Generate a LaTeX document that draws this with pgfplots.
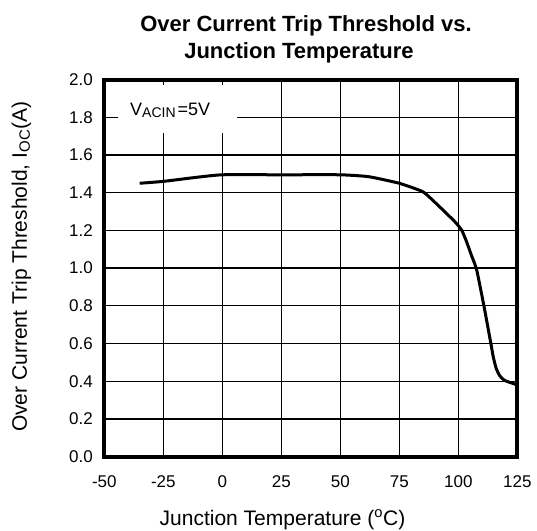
\documentclass[border=0pt]{standalone}
\usepackage{fontspec}
\setmainfont{Liberation Sans}
\usepackage{pgfplots}
\pgfplotsset{compat=1.18}
\begin{document}
\begin{tikzpicture}
\begin{axis}[
  scale only axis,
  width=413bp, height=377bp,
  xmin=-50, xmax=125, ymin=0, ymax=2,
  xtick={-50,-25,0,25,50,75,100,125},
  ytick={0,0.2,0.4,0.6,0.8,1.0,1.2,1.4,1.6,1.8,2.0},
  grid=major,
  grid style={black, line width=1.3bp},
  axis line style={black, line width=4bp},
  major tick length=0pt,
  /pgf/number format/assume math mode=true,
  ticklabel style={font=\fontsize{17bp}{20bp}\selectfont, text=black},
  yticklabel style={/pgf/number format/fixed, /pgf/number format/fixed zerofill, /pgf/number format/precision=1, xshift=-8bp},
  xticklabel style={yshift=-16bp},
  clip=false,
]
\addplot[black, line width=3bp, smooth, tension=0.3] coordinates {
(-35,1.45) (-25,1.46) (-12,1.48) (0,1.495) (25,1.495) (50,1.495) (62,1.485)
(75,1.45) (85,1.405) (90,1.35) (95,1.29) (99,1.24) (101.5,1.20) (103.5,1.14)
(105.5,1.07) (107.8,0.99) (111,0.79) (113.8,0.60) (114.8,0.53) (116,0.47)
(117.5,0.43) (119.5,0.405) (122,0.393) (125,0.38)
};
\fill[white] (axis cs:-44.2,1.717) rectangle (axis cs:6.1,1.971);
\node[anchor=base west, inner sep=0, font=\fontsize{18bp}{18bp}\selectfont] at (axis cs:-39.1,1.812) {V\raisebox{-2.3bp}{\fontsize{14bp}{14bp}\selectfont ACIN}\hspace{2bp}=5V};
\end{axis}
\node[anchor=base, inner sep=0, font=\fontsize{22bp}{22bp}\selectfont\bfseries] at (201.7bp,424.9bp) {Over Current Trip Threshold vs.};
\node[anchor=base, inner sep=0, font=\fontsize{22bp}{22bp}\selectfont\bfseries] at (194.7bp,397.6bp) {Junction Temperature};
\node[anchor=base, inner sep=0, font=\fontsize{21bp}{21bp}\selectfont] at (178.2bp,-68.4bp) {Junction Temperature (\textsuperscript{o}C)};
\node[anchor=base, inner sep=0, rotate=90, font=\fontsize{21bp}{21bp}\selectfont] at (-77.3bp,190.1bp) {Over Current Trip Threshold, I\raisebox{-3bp}{\fontsize{15bp}{15bp}\selectfont OC}\hspace{1bp}(A)};
\pgfresetboundingbox
\path[use as bounding box] (-104.3bp,-74.4bp) rectangle (432.7bp,456.6bp);
\end{tikzpicture}
\end{document}
